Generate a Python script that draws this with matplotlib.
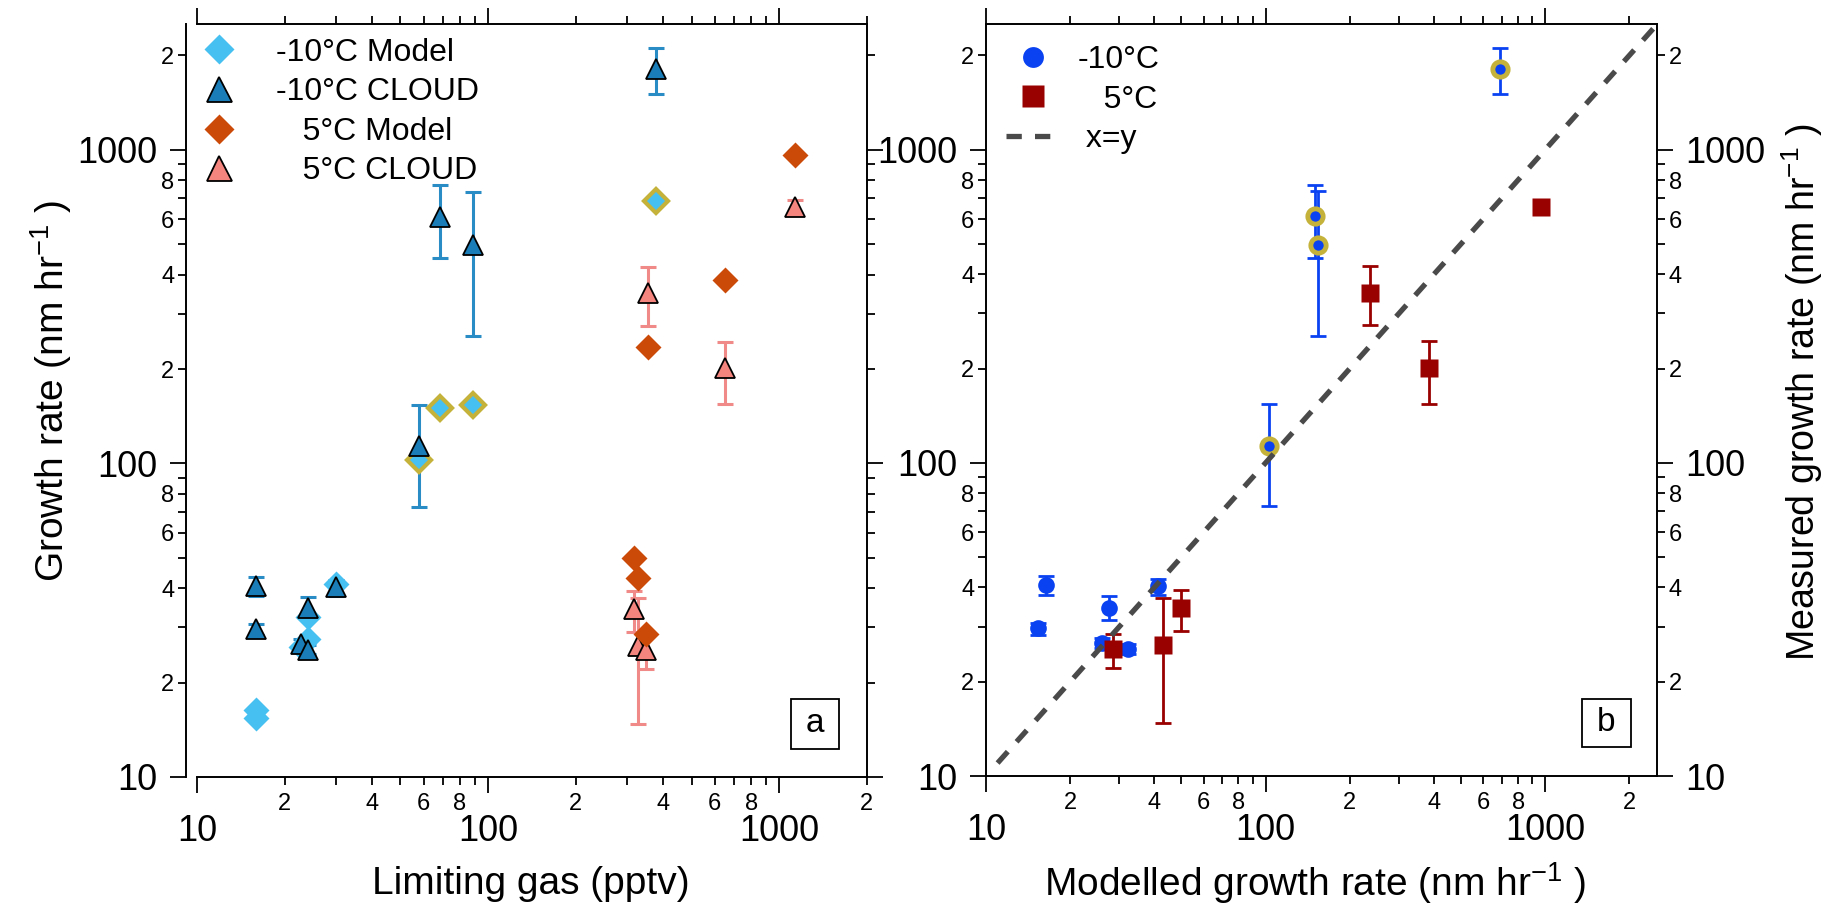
import numpy as np
import matplotlib
matplotlib.use("Agg")
import matplotlib.pyplot as plt
from matplotlib.ticker import LogLocator, FuncFormatter
from matplotlib.lines import Line2D
from matplotlib.patches import Rectangle

plt.rcParams["font.family"] = ["Liberation Sans", "DejaVu Sans"]
plt.rcParams["mathtext.fontset"] = "custom"
plt.rcParams["mathtext.rm"] = "Liberation Sans"
plt.rcParams["mathtext.it"] = "Liberation Sans:italic"
plt.rcParams["mathtext.bf"] = "Liberation Sans:bold"
plt.rcParams["mathtext.default"] = "regular"

# -10 C runs: limiting gas, measured (CLOUD) growth rate with error range, modelled growth rate
cold_gas = [16.0, 16.0, 24.1, 22.7, 24.1, 30.0, 57.9, 68.2, 88.5, 378]
cold_meas = [40.7, 29.6, 34.5, 26.5, 25.5, 40.3, 113.5, 612, 496, 1810]
cold_hi = [43.4, 30.8, 37.6, 27.5, 26.4, 42.5, 153.7, 772, 736, 2117]
cold_lo = [37.9, 28.3, 31.6, 25.6, 24.6, 37.9, 72.6, 452, 254, 1507]
cold_model = [16.4, 15.4, 27.6, 25.9, 32.3, 41.2, 102.5, 150, 154, 688]
cold_flag = [False, False, False, False, False, False, True, True, True, True]

# 5 C runs
warm_gas = [316, 327.5, 348, 354, 650, 1129]
warm_meas = [34.3, 26.2, 25.4, 349, 201, 658]
warm_hi = [39.2, 37.1, 28.5, 424.6, 244.6, 690]
warm_lo = [29.0, 14.8, 22.1, 274.6, 154.5, 630]
warm_model = [50, 43, 28.5, 236, 384, 964]

xy_line = [11, 2500]

c_model = "#46c0f0"
c_cloud = "#1b7db8"
c_cloud_err = "#2a8cc4"
c_gold = "#c4b23a"
c_wmodel = "#cc4a08"
c_wcloud = "#f4847e"
c_wcloud_err = "#f08a88"
c_blue = "#0a42f2"
c_red = "#990000"


def minor_fmt(v, pos):
    e = np.floor(np.log10(v) + 1e-9)
    d = int(round(v / 10 ** e))
    return str(d) if d in (2, 4, 6, 8) else ""


def setup_log(ax):
    for a in (ax.xaxis, ax.yaxis):
        a.set_major_locator(LogLocator(base=10, numticks=20))
        a.set_minor_locator(LogLocator(base=10, subs=np.arange(2, 10), numticks=20))
        a.set_major_formatter(FuncFormatter(lambda v, p: f"{v:g}"))
        a.set_minor_formatter(FuncFormatter(minor_fmt))
    ax.tick_params(which="major", direction="out", length=11.5, width=1.3,
                   labelsize=26)
    ax.tick_params(which="minor", direction="out", length=6, width=1.3,
                   labelsize=17)
    ax.xaxis.set_tick_params(which="major", pad=15)
    ax.xaxis.set_tick_params(which="minor", pad=5.5)
    ax.yaxis.set_tick_params(which="major", pad=9)
    ax.yaxis.set_tick_params(which="minor", pad=2.5)
    for s in ax.spines.values():
        s.set_linewidth(1.4)


fig = plt.figure(figsize=(18.31, 9.18), dpi=100)
ax_a = fig.add_axes([186 / 1831, 141 / 918, 681 / 1831, 753 / 918])
ax_b = fig.add_axes([986 / 1831, 142 / 918, 671 / 1831, 752 / 918])

# ---------------- panel a ----------------
ax = ax_a
ax.set_xscale("log")
ax.set_yscale("log")

ax.errorbar(cold_gas, cold_meas,
            yerr=[np.array(cold_meas) - np.array(cold_lo),
                  np.array(cold_hi) - np.array(cold_meas)],
            fmt="none", ecolor=c_cloud_err, elinewidth=2.2, capsize=5.5,
            capthick=2.2, zorder=2)
ax.errorbar(warm_gas, warm_meas,
            yerr=[np.array(warm_meas) - np.array(warm_lo),
                  np.array(warm_hi) - np.array(warm_meas)],
            fmt="none", ecolor=c_wcloud_err, elinewidth=2.2, capsize=5.5,
            capthick=2.2, zorder=2)

for g, m, f in zip(cold_gas, cold_model, cold_flag):
    if f:
        ax.plot(g, m, ls="none", marker="D", ms=12, mfc=c_model, mec=c_gold,
                mew=3, zorder=3)
    else:
        ax.plot(g, m, ls="none", marker="D", ms=13, mfc=c_model, mec="none",
                zorder=3)
ax.plot(cold_gas, cold_meas, ls="none", marker="^", ms=14, mfc=c_cloud,
        mec="black", mew=1.3, zorder=4)
ax.plot(warm_gas, warm_meas, ls="none", marker="^", ms=14, mfc=c_wcloud,
        mec="black", mew=1.3, zorder=4)
ax.plot(warm_gas, warm_model, ls="none", marker="D", ms=13, mfc=c_wmodel,
        mec="none", zorder=5)

ax.set_xlim(9.17, 2001)
ax.set_ylim(10, 2520)
setup_log(ax)
ax.tick_params(which="both", top=True, right=True, labeltop=False,
               labelright=False)
ax.spines["bottom"].set_bounds(10, 2001)
ax.spines["top"].set_bounds(10, 2001)

ax.set_xlabel("Limiting gas (pptv)", fontsize=28)
ax.xaxis.set_label_coords(0.507, -0.118)
ax.set_ylabel("Growth rate (nm hr$^{-1}$ )", fontsize=28)
ax.yaxis.set_label_coords(-0.165, 0.513)

handles_a = [
    Line2D([], [], ls="none", marker="D", ms=15, mfc=c_model, mec="none"),
    Line2D([], [], ls="none", marker="^", ms=18, mfc=c_cloud, mec="black", mew=1.3),
    Line2D([], [], ls="none", marker="D", ms=15, mfc=c_wmodel, mec="none"),
    Line2D([], [], ls="none", marker="^", ms=18, mfc=c_wcloud, mec="black", mew=1.3),
]
labels_a = ["-10°C Model", "-10°C CLOUD", "   5°C Model", "   5°C CLOUD"]
ax.legend(handles_a, labels_a, loc="upper left", bbox_to_anchor=(0.0095, 0.982),
          frameon=False, fontsize=23, handlelength=1.67, handletextpad=0.93,
          labelspacing=0.3, borderpad=0, borderaxespad=0)

ax.add_patch(Rectangle((0.888, 0.037), 0.071, 0.067, transform=ax.transAxes,
                       fill=False, lw=1.3, ec="black", zorder=7))
ax.text(0.9235, 0.0705, "a", transform=ax.transAxes, ha="center", va="center",
        fontsize=24, zorder=7)

# ---------------- panel b ----------------
ax = ax_b
ax.set_xscale("log")
ax.set_yscale("log")

ax.errorbar(cold_model, cold_meas,
            yerr=[np.array(cold_meas) - np.array(cold_lo),
                  np.array(cold_hi) - np.array(cold_meas)],
            fmt="none", ecolor=c_blue, elinewidth=2, capsize=6, capthick=2,
            zorder=2)
ax.errorbar(warm_model, warm_meas,
            yerr=[np.array(warm_meas) - np.array(warm_lo),
                  np.array(warm_hi) - np.array(warm_meas)],
            fmt="none", ecolor=c_red, elinewidth=2, capsize=6, capthick=2,
            zorder=2)
for m, y, f in zip(cold_model, cold_meas, cold_flag):
    if f:
        ax.plot(m, y, ls="none", marker="o", ms=11, mfc=c_blue, mec=c_gold,
                mew=3.5, zorder=3)
    else:
        ax.plot(m, y, ls="none", marker="o", ms=12, mfc=c_blue, mec="none",
                zorder=3)
ax.plot(warm_model, warm_meas, ls="none", marker="s", ms=13, mfc=c_red,
        mec="none", zorder=4)
ax.plot(xy_line, xy_line, ls=(0, (2.9, 2.5)), color="#4a4a4a", lw=3.8,
        dash_capstyle="butt", zorder=6)

ax.set_xlim(9.999, 2512)
ax.set_ylim(10, 2520)
setup_log(ax)
ax.tick_params(which="both", top=True, right=True, labeltop=False,
               labelright=True, labelleft=True)

ax.set_xlabel("Modelled growth rate (nm hr$^{-1}$ )", fontsize=28)
ax.xaxis.set_label_coords(0.49, -0.112)
ax.yaxis.set_label_position("right")
ax.set_ylabel("Measured growth rate (nm hr$^{-1}$ )", fontsize=27)
ax.yaxis.set_label_coords(1.183, 0.51)

handles_b = [
    Line2D([], [], ls="none", marker="o", ms=15, mfc=c_blue, mec="none"),
    Line2D([], [], ls="none", marker="s", ms=16, mfc=c_red, mec="none"),
    Line2D([], [], ls=(0, (2.9, 2.5)), color="#4a4a4a", lw=3.8),
]
labels_b = ["-10°C", "   5°C", " x=y"]
ax.legend(handles_b, labels_b, loc="upper left", bbox_to_anchor=(0.030, 0.972),
          frameon=False, fontsize=23, handlelength=1.67, handletextpad=0.56,
          labelspacing=0.3, borderpad=0, borderaxespad=0)

ax.add_patch(Rectangle((0.888, 0.039), 0.073, 0.064, transform=ax.transAxes,
                       fill=False, lw=1.3, ec="black", zorder=7))
ax.text(0.9245, 0.071, "b", transform=ax.transAxes, ha="center", va="center",
        fontsize=24, zorder=7)

fig.savefig("out.png", dpi=100)
